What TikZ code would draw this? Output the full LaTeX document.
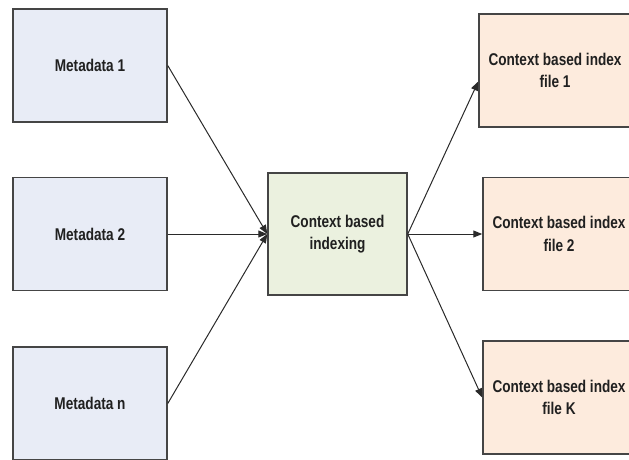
\documentclass[tikz,border=0pt]{standalone}
\usepackage{fontspec}
\setmainfont{Liberation Sans}[FakeStretch=0.8]
\usetikzlibrary{arrows.meta,calc}
\definecolor{metafill}{HTML}{E8ECF6}
\definecolor{idxfill}{HTML}{EBF1DF}
\definecolor{filefill}{HTML}{FDEBDD}
\definecolor{boxline}{HTML}{454545}
\definecolor{arrowc}{HTML}{2A2A2A}
\definecolor{txt}{HTML}{202020}
\begin{document}
\begin{tikzpicture}[x=1pt,y=-1pt,
  box/.style={draw=boxline, line width=1.5pt, inner sep=0pt, align=center,
    font=\fontsize{17}{22.5}\selectfont\bfseries, text=txt},
  metabox/.style={box, fill=metafill, minimum width=154pt, minimum height=113pt},
  idxbox/.style={box, fill=idxfill, minimum width=139pt, minimum height=122pt},
  filebox/.style={box, fill=filefill, minimum width=152pt, minimum height=113pt},
  conn/.style={draw=arrowc, line width=1pt, -{Triangle[length=9pt,width=7pt]}}]
\useasboundingbox (0,0) rectangle (629,459);
\node[metabox] (m1) at (90,65.5) {Metadata 1};
\node[metabox] (m2) at (90,234) {Metadata 2};
\node[metabox] (mn) at (90,403.5) {Metadata n};
\node[idxbox] (c) at (337.5,234) {Context based\\indexing};
\node[filebox] (f1) at (555,70.5) {Context based index\\file 1};
\node[filebox] (f2) at (559,234) {Context based index\\file 2};
\node[filebox] (fk) at (559,397.5) {Context based index\\file K};
\draw[conn] (m1.east) -- (c.west);
\draw[conn] (m2.east) -- (c.west);
\draw[conn] (mn.east) -- (c.west);
\draw[conn] (c.east) -- ($(f1.west)+(0,11)$);
\draw[conn] (c.east) -- (f2.west);
\draw[conn] (c.east) -- (fk.west);
\end{tikzpicture}
\end{document}
